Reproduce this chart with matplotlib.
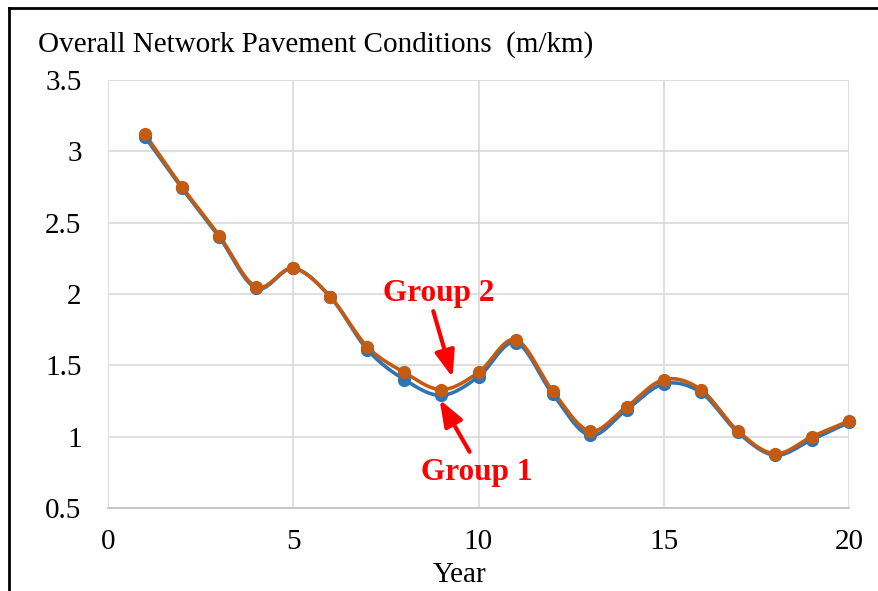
import numpy as np
import matplotlib.pyplot as plt
from matplotlib.lines import Line2D

years = list(range(1, 21))
group1 = [3.10, 2.74, 2.40, 2.04, 2.18, 1.98, 1.61, 1.40, 1.29, 1.42,
          1.66, 1.30, 1.01, 1.19, 1.37, 1.31, 1.03, 0.87, 0.98, 1.10]
group2 = [3.12, 2.75, 2.41, 2.05, 2.18, 1.98, 1.63, 1.45, 1.33, 1.45,
          1.68, 1.32, 1.04, 1.21, 1.40, 1.33, 1.04, 0.88, 1.00, 1.11]

title = "Overall Network Pavement Conditions  (m/km)"
xlabel = "Year"

BLUE = "#2e75b6"
ORANGE = "#c55a11"


# Excel style smoothed line (Catmull-Rom through the points)
def smooth(x, y, n=24):
    x = np.asarray(x, float)
    y = np.asarray(y, float)
    px = np.concatenate([[2 * x[0] - x[1]], x, [2 * x[-1] - x[-2]]])
    py = np.concatenate([[2 * y[0] - y[1]], y, [2 * y[-1] - y[-2]]])
    t = np.linspace(0, 1, n, endpoint=False)
    xs, ys = [], []
    for i in range(1, len(px) - 2):
        for p, out in ((px, xs), (py, ys)):
            p0, p1, p2, p3 = p[i - 1], p[i], p[i + 1], p[i + 2]
            out.extend(0.5 * (2 * p1 + (-p0 + p2) * t
                              + (2 * p0 - 5 * p1 + 4 * p2 - p3) * t ** 2
                              + (-p0 + 3 * p1 - 3 * p2 + p3) * t ** 3))
    xs.append(x[-1])
    ys.append(y[-1])
    return np.array(xs), np.array(ys)


plt.rcParams['font.family'] = ['Liberation Serif', 'DejaVu Serif']

fig = plt.figure(figsize=(8.79, 5.91), dpi=100)
ax = fig.add_axes([108 / 879, 1 - 508 / 591, 741 / 879, 428 / 591])

for vals, col in ((group1, BLUE), (group2, ORANGE)):
    sx, sy = smooth(years, vals)
    ax.plot(sx, sy, color=col, lw=2.6, zorder=3, solid_capstyle='round',
            clip_on=False)
    ax.plot(years, vals, 'o', color=col, ms=8.5, zorder=4, clip_on=False)

ax.set_xlim(0, 20)
ax.set_ylim(0.5, 3.5)
ax.set_xticks([0, 5, 10, 15, 20])
ax.set_yticks(np.arange(0.5, 3.51, 0.5))
ax.set_yticklabels(["0.5", "1", "1.5", "2", "2.5", "3", "3.5"])
ax.grid(True, color="#d9d9d9", lw=1.2, zorder=0)
ax.set_axisbelow(True)
for s in ax.spines.values():
    s.set_visible(False)
ax.spines['bottom'].set_visible(True)
ax.spines['bottom'].set_color("#bfbfbf")
ax.spines['bottom'].set_linewidth(1.2)
ax.tick_params(length=0, labelsize=21)
ax.tick_params(axis='y', pad=19)
ax.tick_params(axis='x', pad=15)

fig.text(38 / 879, 1 - 45 / 591, title, fontsize=21, ha='left', va='center')
fig.text(460 / 879, 1 - 575 / 591, xlabel, fontsize=21, ha='center', va='center')

# annotations
ax.text(8.92, 2.0, "Group 2", color='red', fontsize=22.5, fontweight='bold',
        ha='center', va='center')
ax.text(9.95, 0.75, "Group 1", color='red', fontsize=22.5, fontweight='bold',
        ha='center', va='center')
arrow = dict(arrowstyle='-|>,head_length=0.8,head_width=0.3', color='red',
             lw=3, mutation_scale=20, shrinkA=0, shrinkB=0)
ax.annotate("", xy=(9.30, 1.415), xytext=(8.78, 1.88), arrowprops=arrow)
ax.annotate("", xy=(8.95, 1.26), xytext=(9.76, 0.894), arrowprops=arrow)

# outer frame (left and top)
fig.add_artist(Line2D([9 / 879, 9 / 879], [0, 1 - 8 / 591], color='black', lw=2))
fig.add_artist(Line2D([9 / 879, 1], [1 - 8 / 591, 1 - 8 / 591], color='black', lw=2))

fig.savefig("out.png", dpi=100)
